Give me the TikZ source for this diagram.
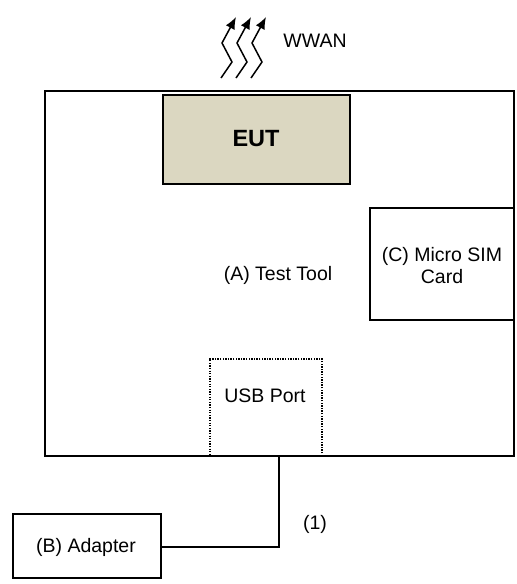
\documentclass[tikz,border=0pt]{standalone}
\usepackage{fontspec}
\setmainfont{Liberation Sans}
\usetikzlibrary{arrows.meta}
\definecolor{eutfill}{HTML}{DBD7C1}
\begin{document}
\begin{tikzpicture}[x=1pt,y=-1pt,
  box/.style={draw,line width=1.6pt,inner sep=0pt},
  lbl/.style={font=\fontsize{19.5}{22}\selectfont,align=center,inner sep=0pt},
  wave/.style={line width=1.5pt,-{Latex[length=12pt,width=10pt]}}]
\useasboundingbox (0,0) rectangle (517,584);
% main box
\node[box,minimum width=469pt,minimum height=365pt,anchor=north west] (tool) at (44,90) {};
\node[box,fill=eutfill,minimum width=187pt,minimum height=89pt,anchor=north west] (eut) at (162,94) {};
\node[font=\bfseries\fontsize{23.5}{26}\selectfont] (eutl) at (256,139) {EUT};
\node[box,minimum width=144pt,minimum height=112pt,anchor=north west] (sim) at (369,207) {};
\node[lbl] (siml) at (442,266) {(C) Micro SIM\\Card};
\node[draw,line width=1.5pt,dash pattern=on 1.3pt off 1.3pt,minimum width=112pt,minimum height=97pt,anchor=north west] (usb) at (209,358) {};
\node[lbl] (usbl) at (265,396) {USB Port};
\node[lbl] (tt) at (278,275) {(A) Test Tool};
\node[box,minimum width=148pt,minimum height=64pt,anchor=north west] (adp) at (12,513) {};
\node[lbl] (adpl) at (86,547) {(B) Adapter};
\coordinate (c1) at (279,455);
\coordinate (c2) at (279,547);
\draw[line width=1.6pt] (c1) -- (c2) -- (adp.east |- c2);
\node[lbl] (one) at (315,524) {(1)};
% WWAN arrows
\foreach \i/\n in {0/w1,1/w2,2/w3}{
  \coordinate (\n a) at (221+15*\i,78);
  \coordinate (\n b) at (232+15*\i,62);
  \coordinate (\n c) at (222+15*\i,43);
  \coordinate (\n d) at (236+15*\i,17);
  \draw[wave] (\n a) -- (\n b) -- (\n c) -- (\n d);
}
\node[lbl] (wwan) at (315,41) {WWAN};
\end{tikzpicture}
\end{document}
